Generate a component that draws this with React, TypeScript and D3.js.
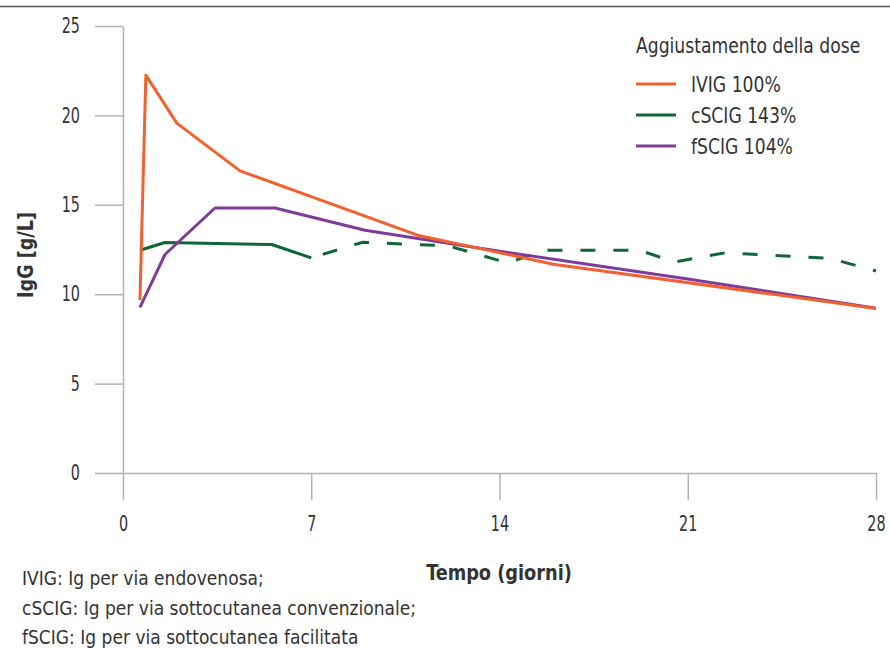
import React, { useRef, useEffect } from "react";
import * as d3 from "d3";

// values (day, IgG g/L)
const ivig = [
  [0.63, 9.66],
  [0.85, 22.25],
  [2.0, 19.57],
  [4.35, 16.9],
  [10.95, 13.3],
  [16.0, 11.68],
  [28, 9.2],
];
const fscig = [
  [0.63, 9.26],
  [1.56, 12.22],
  [3.42, 14.82],
  [5.65, 14.82],
  [9.0, 13.58],
  [14.0, 12.4],
  [21.0, 10.85],
  [28, 9.22],
];
const cscigSolid = [
  [0.63, 12.46],
  [1.56, 12.89],
  [5.53, 12.78],
  [7.0, 12.03],
];
const cscigDashed = [
  [7.0, 12.03],
  [8.9, 12.9],
  [12.1, 12.7],
  [14.3, 11.75],
  [15.7, 12.46],
  [19.2, 12.46],
  [20.5, 11.8],
  [22.4, 12.32],
  [26.3, 12.0],
  [28, 11.3],
];

const xTicks = [0, 7, 14, 21, 28];
const yTicks = [0, 5, 10, 15, 20, 25];
const legendTitle = "Aggiustamento della dose";
const legendLabels = ["IVIG 100%", "cSCIG 143%", "fSCIG 104%"];
const footnotes = [
  "IVIG: Ig per via endovenosa;",
  "cSCIG: Ig per via sottocutanea convenzionale;",
  "fSCIG: Ig per via sottocutanea facilitata",
];

const ORANGE = "#f26130";
const GREEN = "#0f6637";
const PURPLE = "#7d3c98";
const FONT = "'DejaVu Sans Condensed', 'DejaVu Sans', sans-serif";
const SQUEEZE = 0.91; // reference font is narrower than DejaVu Condensed
const DIGIT_SQUEEZE = 0.76;

const App = () => {
  const svgRef = useRef(null);

  useEffect(() => {
    const svg = d3.select(svgRef.current);
    svg.selectAll("*").remove();

    const x = d3.scaleLinear().domain([0, 28]).range([123, 876]);
    const y = d3.scaleLinear().domain([0, 25]).range([473, 26]);

    const label = (g, tx, ty, text, opts = {}) =>
      g.append("text")
        .attr("transform", `translate(${tx},${ty}) scale(${opts.sx || SQUEEZE},1)`)
        .attr("text-anchor", opts.anchor || "start")
        .attr("fill", "#333")
        .style("font-family", FONT)
        .style("font-size", (opts.size || 21) + "px")
        .style("font-weight", opts.bold ? "bold" : "normal")
        .text(text);

    svg.append("line")
      .attr("x1", 0).attr("x2", 890).attr("y1", 6.5).attr("y2", 6.5)
      .attr("stroke", "#555").attr("stroke-width", 1.5);

    const yAxis = svg.append("g")
      .attr("transform", "translate(123,0)")
      .call(d3.axisLeft(y).tickValues(yTicks).tickSize(28).tickSizeOuter(0).tickPadding(15));
    const xAxis = svg.append("g")
      .attr("transform", "translate(0,473)")
      .call(d3.axisBottom(x).tickValues(xTicks).tickSize(27).tickSizeOuter(0).tickPadding(16));

    [yAxis, xAxis].forEach((a) => {
      a.selectAll("path, line").attr("stroke", "#b3b3b3").attr("stroke-width", 1.5);
      a.selectAll("text")
        .attr("fill", "#333")
        .style("font-family", FONT)
        .style("font-size", "21px")
        .each(function () {
          const tx = +this.getAttribute("x") || 0;
          d3.select(this)
            .attr("x", 0)
            .attr("transform", `translate(${tx},0) scale(${DIGIT_SQUEEZE},1)`);
        });
    });

    const line = d3.line().x((d) => x(d[0])).y((d) => y(d[1]));

    const drawLine = (data, color, dash) => {
      const p = svg.append("path")
        .datum(data)
        .attr("fill", "none")
        .attr("stroke", color)
        .attr("stroke-width", 3)
        .attr("stroke-linejoin", "round")
        .attr("d", line);
      if (dash) p.attr("stroke-dasharray", "15,18").attr("stroke-dashoffset", -12);
    };

    drawLine(cscigSolid, GREEN, false);
    drawLine(cscigDashed, GREEN, true);
    drawLine(fscig, PURPLE, false);
    drawLine(ivig, ORANGE, false);

    // legend
    const lg = svg.append("g");
    label(lg, 636, 53, legendTitle);
    [ORANGE, GREEN, PURPLE].forEach((c, i) => {
      const cy = 84 + i * 31;
      lg.append("line")
        .attr("x1", 636).attr("x2", 676).attr("y1", cy).attr("y2", cy)
        .attr("stroke", c).attr("stroke-width", 3);
      label(lg, 691, cy + 7.5, legendLabels[i]);
    });

    // axis titles
    label(svg, 499, 580, "Tempo (giorni)", { anchor: "middle", bold: true, sx: 0.94 });
    svg.append("text")
      .attr("transform", "translate(33,255) rotate(-90) scale(0.93,1)")
      .attr("text-anchor", "middle")
      .attr("fill", "#333")
      .style("font-family", FONT).style("font-size", "21px").style("font-weight", "bold")
      .text("IgG [g/L]");

    footnotes.forEach((t, i) => {
      label(svg, 22, 585 + i * 29.5, t, { size: 20, sx: 0.95 });
    });
  }, []);

  return (
    <svg
      ref={svgRef}
      width={890}
      height={648}
      style={{ position: "absolute", left: 0, top: 0, background: "#fff" }}
    ></svg>
  );
};

export default App;
